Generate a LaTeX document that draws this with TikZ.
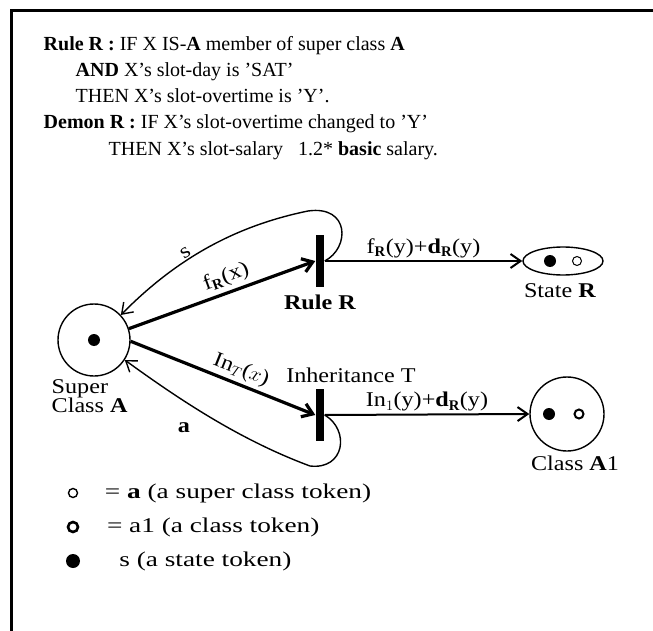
\documentclass[tikz,border=0pt]{standalone}
\usepackage{fontspec}
\setmainfont{Liberation Serif}
\newfontfamily\widefont[FakeStretch=1.15]{Liberation Serif}
\newfontfamily\keyfont[FakeStretch=1.3]{Liberation Serif}
\usetikzlibrary{arrows.meta, positioning, shapes.geometric}
\tikzset{
  every picture/.style={line width=1.4pt},
  txt/.style={font=\fontsize{20}{24}\selectfont, inner sep=0pt, anchor=base west},
  lbl/.style={font=\widefont\fontsize{21}{24}\selectfont, inner sep=1pt, align=left},
  key/.style={font=\keyfont\fontsize{21}{24}\selectfont, inner sep=0pt, anchor=west},
  bar/.style={fill=black, minimum width=8pt, minimum height=52pt, inner sep=0pt},
  place/.style={draw, circle, minimum size=72pt, inner sep=0pt},
  tok/.style={fill=black, circle, minimum size=12pt, inner sep=0pt},
  htok/.style={draw, circle, minimum size=9pt, inner sep=0pt, line width=1.2pt},
  arc/.style={-{Straight Barb[length=10pt, width=14pt]}, line width=3.2pt},
  link/.style={-{Straight Barb[length=10pt, width=14pt]}, line width=2pt},
  loop/.style={-{Straight Barb[length=10pt, width=14pt]}, line width=1.4pt},
}

\begin{document}
\begin{tikzpicture}[x=1pt, y=-1pt]
  \useasboundingbox (0,0) rectangle (653,631);
  \draw[line width=3pt] (11,631) -- (11,11) -- (653,11);
  % rule and demon text
  \node[txt] (l1) at (43,51) {\textbf{Rule R :} IF X IS-\textbf{A} member of super class \textbf{A}};
  \node[txt] (l2) at (75,77) {\textbf{AND} X's slot-day is 'SAT'};
  \node[txt] (l3) at (75,103) {THEN X's slot-overtime is 'Y'.};
  \node[txt] (l4) at (43,129) {\textbf{Demon R :} IF X's slot-overtime changed to 'Y'};
  \node[txt] (l5) at (108,156) {THEN X's slot-salary \ \ 1.2* \textbf{basic} salary.};
  % places and transitions
  \node[place] (super) at (94,340) {};
  \node[tok] (superdot) at (super) {};
  \node[lbl, anchor=north west] (superlbl) at (50,378) {Super\\[-5pt]Class \textbf{A}};
  \node[bar] (ruleR) at (320,261) {};
  \node[lbl, below=6pt of ruleR] (rulelbl) {\textbf{Rule R}};
  \node[bar] (inhT) at (320,415) {};
  \node[lbl, above=4pt of inhT, xshift=31pt] (inhlbl) {Inheritance T};
  \node[draw, ellipse, minimum width=80pt, minimum height=28pt, inner sep=0pt] (stateR) at (563,261) {};
  \node[tok] (sdot) at (550,261) {};
  \node[htok, line width=1pt] (shol) at (577,261) {};
  \node[lbl, below=6pt of stateR, xshift=-3pt] (statelbl) {State \textbf{R}};
  \node[place, minimum size=74pt] (classA) at (567,414) {};
  \node[tok] (cdot) at (549,414) {};
  \node[htok, line width=2pt] (chol) at (579,414) {};
  \node[lbl, below=3pt of classA, xshift=8pt] (classlbl) {Class \textbf{A}1};
  % arcs
  \draw[arc] (super.18) -- node[lbl, sloped, above=3pt, pos=0.55] {f$_{\mathbf{R}}$(x)} (ruleR.west);
  \draw[arc] (super.-2) -- node[lbl, sloped, above=2pt, pos=0.57] {In$_T$($x$)} (inhT.west);
  \draw[link] (ruleR.east) -- node[lbl, above=1pt] {f$_{\mathbf{R}}$(y)+\textbf{d}$_{\mathbf{R}}$(y)} (stateR.west);
  \draw[link] (inhT.east) -- node[lbl, above=1pt] {In$_1$(y)+\textbf{d}$_{\mathbf{R}}$(y)} (classA.west);
  % feedback loops
  \draw[loop] (ruleR.east) .. controls (350,248) and (350,205) .. (308,211)
    .. controls (240,225) and (180,255) .. node[lbl, pos=0.62, sloped, above=0pt] {s} (super.43);
  \draw[loop] (inhT.east) .. controls (350,430) and (345,470) .. (310,466)
    .. controls (240,440) and (180,400) .. (super.-33);
  \node[lbl] (albl) at (184,428) {\textbf{a}};
  % legend
  \node[htok, minimum size=9pt, line width=1.4pt] (k1) at (73,493) {};
  \node[key, right=26pt of k1] (t1) {= \textbf{a} (a super class token)};
  \node[htok, minimum size=10pt, line width=2.6pt] (k2) at (73,527) {};
  \node[key, right=27pt of k2] (t2) {= a1 (a class token)};
  \node[tok, minimum size=14pt] (k3) at (73,561) {};
  \node[key, right=38pt of k3] (t3) {s (a state token)};
\end{tikzpicture}
\end{document}
